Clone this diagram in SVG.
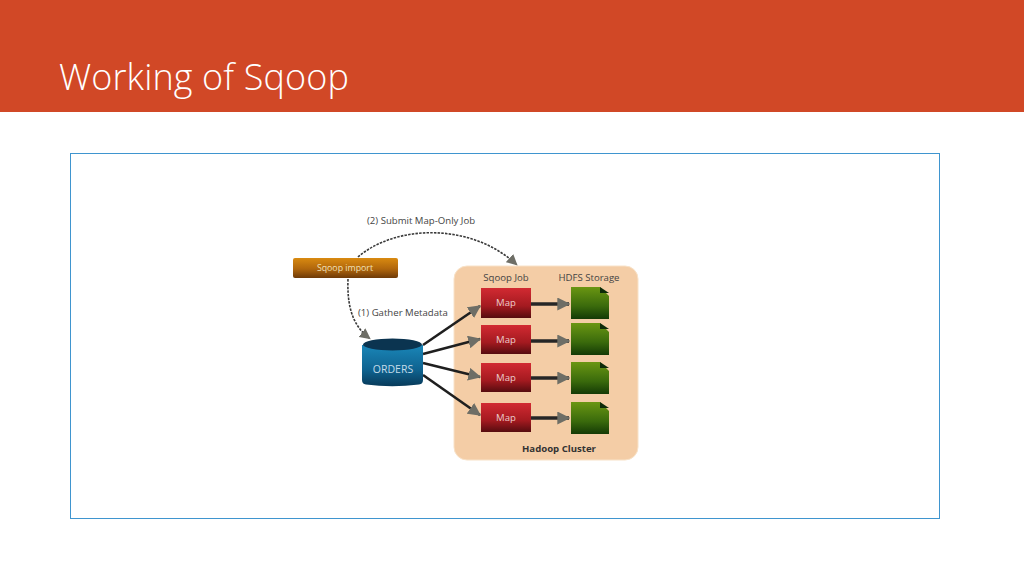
<svg xmlns="http://www.w3.org/2000/svg" width="1024" height="576" viewBox="0 0 1024 576">
<defs>
<linearGradient id="gOrange" x1="0" y1="0" x2="0" y2="1"><stop offset="0" stop-color="#d98a10"/><stop offset="0.55" stop-color="#b0660c"/><stop offset="1" stop-color="#6e3a08"/></linearGradient>
<linearGradient id="gBlue" x1="0" y1="0" x2="0" y2="1"><stop offset="0" stop-color="#1a86b8"/><stop offset="0.6" stop-color="#0f6390"/><stop offset="1" stop-color="#083a5a"/></linearGradient>
<linearGradient id="gRed" x1="0" y1="0" x2="0" y2="1"><stop offset="0" stop-color="#d22a32"/><stop offset="0.6" stop-color="#a41a20"/><stop offset="1" stop-color="#560c0f"/></linearGradient>
<linearGradient id="gGreen" x1="0" y1="0" x2="0" y2="1"><stop offset="0" stop-color="#6a9612"/><stop offset="0.6" stop-color="#3a6a0c"/><stop offset="1" stop-color="#143a06"/></linearGradient>
<marker id="head" viewBox="0 0 10 10" refX="8" refY="5" markerWidth="11" markerHeight="11" markerUnits="userSpaceOnUse" orient="auto"><path d="M0 0L10 5L0 10Z" fill="#6e6e66"/></marker>
<marker id="headBig" viewBox="0 0 10 10" refX="9" refY="5" markerWidth="13" markerHeight="13" markerUnits="userSpaceOnUse" orient="auto"><path d="M0 0L10 5L0 10Z" fill="#6e6e66"/></marker>
</defs>
<style>
.t{font-family:"Open Sans","Liberation Sans",sans-serif}
.lab{font-size:9.600px;fill:#444444}
.white{font-size:9.600px;fill:#eccccc;text-anchor:middle}
.dash{fill:none;stroke:#3a3a3a;stroke-width:1.6;stroke-dasharray:2.5 1.2}
.link{stroke:#1f1f1f;stroke-width:2.6;fill:none}
.thick{stroke:#262626;stroke-width:3.6;fill:none}
</style>
<rect id="banner" width="1024" height="112" fill="#d14826"/>
<text id="title" class="t" x="59" y="90" font-size="36" fill="#ffffff" textLength="290" style="font-weight:300">Working of Sqoop</text>
<rect id="frame" x="70.500" y="153.500" width="869" height="365" fill="#ffffff" stroke="#3f95cf" stroke-width="1"/>
<g id="cluster"><rect x="454" y="266" width="184" height="194" rx="13" fill="#f4cda6" stroke="#f8e2c8" stroke-width="1"/>
<text class="t lab" x="506" y="281" text-anchor="middle">Sqoop Job</text>
<text class="t lab" x="589" y="281" text-anchor="middle">HDFS Storage</text>
<text class="t" x="559" y="452" text-anchor="middle" font-size="9.600" font-weight="700" fill="#333">Hadoop Cluster</text></g>
<g id="connectors">
<path class="dash" d="M358 257C395 225 470 222 516 264" marker-end="url(#head)"/>
<path class="dash" d="M348 279C347 305 352 325 369 338" marker-end="url(#head)"/>
<path class="link" d="M423 345L480 306" marker-end="url(#headBig)"/>
<path class="link" d="M423 354L480 339" marker-end="url(#headBig)"/>
<path class="link" d="M423 363L480 377" marker-end="url(#headBig)"/>
<path class="link" d="M423 375L480 415" marker-end="url(#headBig)"/>
<path class="thick" d="M531 304H569" marker-end="url(#headBig)"/>
<path class="thick" d="M531 341H569" marker-end="url(#headBig)"/>
<path class="thick" d="M531 378H569" marker-end="url(#headBig)"/>
<path class="thick" d="M531 418H569" marker-end="url(#headBig)"/>
</g>
<text class="t lab" x="367" y="224">(2) Submit Map-Only Job</text>
<text class="t lab" x="358" y="316">(1) Gather Metadata</text>
<g id="sqoop-import"><rect x="293" y="258" width="105" height="20" rx="2" fill="url(#gOrange)"/><text class="t" x="345" y="271" text-anchor="middle" font-size="8.800" fill="#f0e0b8">Sqoop import</text></g>
<g id="orders"><path d="M362 345V380Q362 384 366 384.500Q392 388 419 384.500Q423 384 423 380V345Z" fill="url(#gBlue)"/><ellipse cx="392.500" cy="344.500" rx="29.500" ry="6" fill="#0b3450"/><text class="t" x="393" y="373" text-anchor="middle" font-size="10.500" fill="#c4dcea">ORDERS</text></g>
<g id="map1"><rect x="481" y="288" width="50" height="30" fill="url(#gRed)"/><text class="t white" x="506" y="306">Map</text></g>
<g id="map2"><rect x="481" y="325" width="50" height="29" fill="url(#gRed)"/><text class="t white" x="506" y="343">Map</text></g>
<g id="map3"><rect x="481" y="363" width="50" height="29" fill="url(#gRed)"/><text class="t white" x="506" y="381">Map</text></g>
<g id="map4"><rect x="481" y="403" width="50" height="29" fill="url(#gRed)"/><text class="t white" x="506" y="421">Map</text></g>
<g id="hdfs1"><path d="M571 287H600L609 296V319H571Z" fill="url(#gGreen)"/><path d="M600 287L609 293H600Z" fill="#0c2a08"/></g>
<g id="hdfs2"><path d="M571 323H600L609 332V355H571Z" fill="url(#gGreen)"/><path d="M600 323L609 329H600Z" fill="#0c2a08"/></g>
<g id="hdfs3"><path d="M571 362H600L609 371V394H571Z" fill="url(#gGreen)"/><path d="M600 362L609 368H600Z" fill="#0c2a08"/></g>
<g id="hdfs4"><path d="M571 402H600L609 411V434H571Z" fill="url(#gGreen)"/><path d="M600 402L609 408H600Z" fill="#0c2a08"/></g>
</svg>
